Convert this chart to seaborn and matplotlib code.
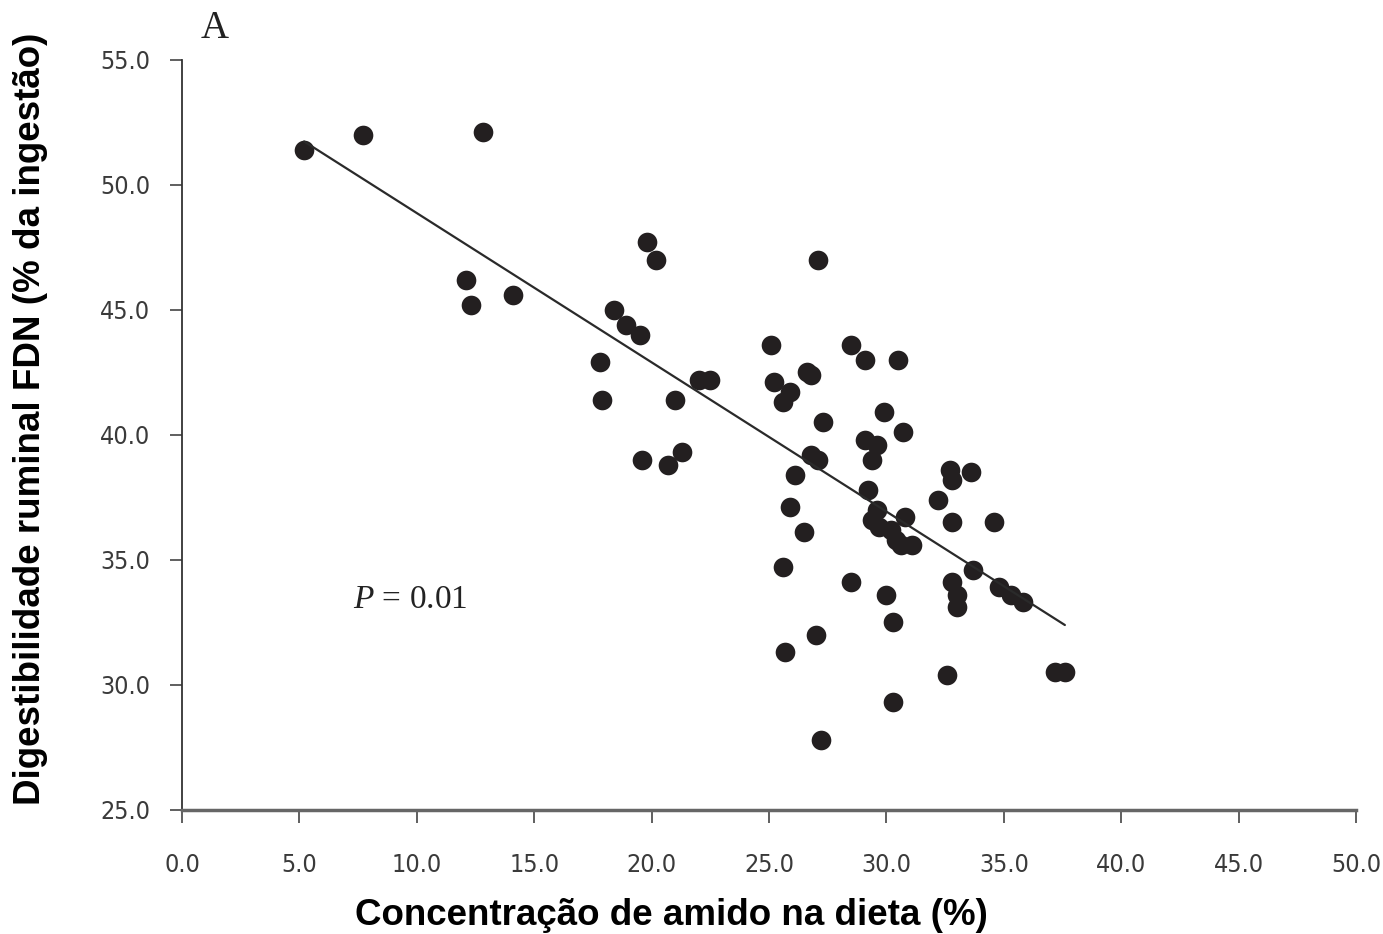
import seaborn as sns
import matplotlib.pyplot as plt
import pandas as pd

# amido na dieta (%) vs digestibilidade ruminal FDN (% da ingestão)
amido = [5.2, 7.7, 12.8, 12.1, 12.3, 14.1, 17.8, 17.9, 18.4, 18.9,
         19.5, 19.8, 20.2, 19.6, 20.7, 21.0, 21.3, 22.0, 22.5, 25.1,
         25.2, 25.6, 25.9, 26.1, 25.9, 25.6, 25.7, 26.5, 26.6, 26.8,
         26.8, 27.1, 27.1, 27.3, 27.0, 27.2, 28.5, 28.5, 29.1, 29.1,
         29.2, 29.4, 29.6, 29.6, 29.4, 29.7, 29.9, 30.0, 30.3, 30.3,
         30.2, 30.4, 30.5, 30.6, 30.7, 30.8, 31.1, 32.2, 32.6, 32.7,
         32.8, 32.8, 32.8, 33.0, 33.0, 33.6, 33.7, 34.6, 34.8, 35.3,
         35.8, 37.2, 37.6]
fdn = [51.4, 52.0, 52.1, 46.2, 45.2, 45.6, 42.9, 41.4, 45.0, 44.4,
       44.0, 47.7, 47.0, 39.0, 38.8, 41.4, 39.3, 42.2, 42.2, 43.6,
       42.1, 41.3, 41.7, 38.4, 37.1, 34.7, 31.3, 36.1, 42.5, 42.4,
       39.2, 39.0, 47.0, 40.5, 32.0, 27.8, 34.1, 43.6, 43.0, 39.8,
       37.8, 39.0, 39.6, 37.0, 36.6, 36.3, 40.9, 33.6, 32.5, 29.3,
       36.2, 35.8, 43.0, 35.6, 40.1, 36.7, 35.6, 37.4, 30.4, 38.6,
       38.2, 36.5, 34.1, 33.6, 33.1, 38.5, 34.6, 36.5, 33.9, 33.6,
       33.3, 30.5, 30.5]

x_ticks = [0, 5, 10, 15, 20, 25, 30, 35, 40, 45, 50]
y_ticks = [25, 30, 35, 40, 45, 50, 55]

df = pd.DataFrame({"amido": amido, "fdn": fdn})

sns.set_style("white")
plt.rcParams["font.family"] = ["Liberation Sans", "DejaVu Sans"]
plt.rcParams["mathtext.fontset"] = "custom"
plt.rcParams["mathtext.it"] = "Liberation Serif:italic"
plt.rcParams["mathtext.rm"] = "Liberation Serif"

fig = plt.figure(figsize=(13.83, 9.34), dpi=100)
ax = fig.add_axes([0.1316, 0.1328, 0.8489, 0.803])

sns.regplot(data=df, x="amido", y="fdn", ax=ax, ci=None,
            scatter_kws={"s": 200, "color": "#231f20", "linewidths": 0, "alpha": 1},
            line_kws={"color": "#2a2a2a", "lw": 1.6})

ax.set_xlim(0, 50)
ax.set_ylim(25, 55)
ax.set_xticks(x_ticks)
ax.set_yticks(y_ticks)
ax.set_xticklabels([f"{v:.1f}" for v in x_ticks])
ax.set_yticklabels([f"{v:.1f}" for v in y_ticks])

for s in ["top", "right"]:
    ax.spines[s].set_visible(False)
ax.spines["left"].set_color("#333333")
ax.spines["left"].set_linewidth(1.3)
ax.spines["bottom"].set_color("#666666")
ax.spines["bottom"].set_linewidth(2.5)

ax.tick_params(axis="both", bottom=True, left=True, direction="out", length=9,
               width=1.2, color="#444444", labelsize=18, labelcolor="#3a3a3a")
ax.tick_params(axis="y", pad=14)
ax.tick_params(axis="x", pad=22)
for lab in ax.get_xticklabels() + ax.get_yticklabels():
    lab.set_family(["DejaVu Sans"])
    lab.set_stretch("condensed")

ax.set_xlabel("Concentração de amido na dieta (%)", fontsize=26.5, fontweight="bold",
              color="black")
ax.xaxis.set_label_coords(0.417, -0.117)
ax.set_ylabel("Digestibilidade ruminal FDN (% da ingestão)", fontsize=26.5,
              fontweight="bold", color="black")
ax.yaxis.set_label_coords(-0.114, 0.521)

ax.text(7.3, 33.4, r"$P$ = 0.01", fontsize=24, family="Liberation Serif",
        color="#222222", va="center", ha="left")
fig.text(0.155, 0.97, "A", fontsize=28, family="Liberation Serif", color="#222222",
         va="center", ha="center")

fig.savefig("out.png", dpi=100)
